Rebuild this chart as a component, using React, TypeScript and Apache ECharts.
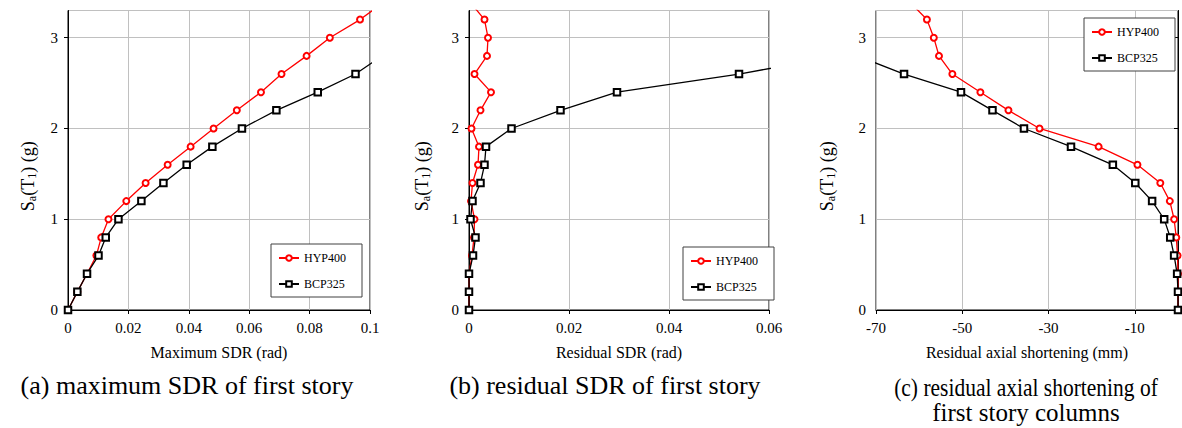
import React, { useEffect, useRef } from "react";
import * as echarts from "echarts";

// Sa(T1) levels (g)
const yLevels = [0, 0.2, 0.4, 0.6, 0.8, 1.0, 1.2, 1.4, 1.6, 1.8, 2.0, 2.2, 2.4, 2.6, 2.8, 3.0, 3.2, 3.4];

// (a) maximum SDR of first story (rad)
const aHYP400 = [0, 0.0031, 0.0063, 0.0094, 0.011, 0.0134, 0.0193, 0.0257, 0.033, 0.0406, 0.0482, 0.0559, 0.0639, 0.0707, 0.079, 0.0867, 0.0967, 0.105];
const aBCP325 = [0, 0.0031, 0.0063, 0.0101, 0.0125, 0.0167, 0.0243, 0.0316, 0.0393, 0.0478, 0.0576, 0.069, 0.0827, 0.0952, 0.104];

// (b) residual SDR of first story (rad)
const bHYP400 = [0, 0, 0, 0.0006, 0.001, 0.0011, 0.0004, 0.0007, 0.0018, 0.002, 0.0005, 0.0023, 0.0044, 0.0011, 0.0036, 0.0038, 0.0031, 0.0001];
const bBCP325 = [0, 0, 0, 0.0008, 0.0013, 0.0003, 0.0007, 0.0023, 0.0031, 0.0034, 0.0085, 0.0183, 0.0296, 0.054, 0.074];

// (c) residual axial shortening of first story columns (mm)
const cHYP400 = [0, 0, 0, -0.1, -0.4, -0.9, -1.9, -4.1, -9.4, -18.4, -32.1, -39.3, -45.8, -52.3, -55.4, -56.6, -58.2, -62.3];
const cBCP325 = [0, 0, -0.2, -0.9, -1.8, -3.2, -6.0, -9.9, -15.1, -24.8, -35.7, -43.0, -50.3, -63.5, -74.3];

const xTitles = ["Maximum SDR (rad)", "Residual SDR (rad)", "Residual axial shortening (mm)"];
const captions = ["(a) maximum SDR of first story", "(b) residual SDR of first story", "(c) residual axial shortening of", "first story columns"];
const seriesNames = ["HYP400", "BCP325"];

const FONT = "Liberation Serif";

function pairs(xs: number[]) {
  return xs.map((x, i) => [x, yLevels[i]]);
}

export default function App() {
  const ref = useRef<HTMLDivElement>(null);
  useEffect(() => {
    document.body.style.margin = "0";
    const chart = echarts.init(ref.current!, null, { renderer: "svg" });

    const grids = [
      { left: 68, right: 812, top: 10.5, bottom: 118 },
      { left: 469, right: 413, top: 10.5, bottom: 118 },
      { left: 876, right: 4, top: 10.5, bottom: 118 },
    ];
    const xRanges = [
      { min: 0, max: 0.1, interval: 0.02 },
      { min: 0, max: 0.06, interval: 0.02 },
      { min: -70, max: 0, interval: 20 },
    ];
    const yNameGaps = [30, 37, 39];

    const axisCommon = {
      axisLine: { show: true, lineStyle: { color: "#000", width: 1 } },
      axisTick: { show: true, inside: false, length: 4, lineStyle: { color: "#000" } },
      splitLine: { show: true, lineStyle: { color: "#c0c0c0", width: 1 } },
    };

    const xAxis = xRanges.map((r, i) => ({
      type: "value",
      gridIndex: i,
      min: r.min,
      max: r.max,
      interval: r.interval,
      name: xTitles[i],
      nameLocation: "middle",
      nameGap: 34,
      nameTextStyle: { fontFamily: FONT, fontSize: 16, color: "#000" },
      axisLabel: {
        fontFamily: FONT,
        fontSize: 15,
        color: "#000",
        margin: 10,
        showMaxLabel: i === 2 ? false : true,
      },
      ...axisCommon,
    }));

    const yAxis = grids.map((_, i) => ({
      type: "value",
      gridIndex: i,
      min: 0,
      max: 3.3,
      interval: 1,
      name: "{n|S}{s|a}{n|(T}{s|1}{n|) (g)}",
      nameLocation: "middle",
      nameGap: yNameGaps[i],
      nameRotate: 90,
      nameTextStyle: {
        fontFamily: FONT,
        fontSize: 18,
        color: "#000",
        padding: [0, 32, 0, 0],
        rich: {
          n: { fontFamily: FONT, fontSize: 18, color: "#000" },
          s: { fontFamily: FONT, fontSize: 12, color: "#000", padding: [9, 0, 0, 0] },
        },
      },
      axisLabel: {
        fontFamily: FONT,
        fontSize: 15,
        color: "#000",
        margin: 10,
        showMaxLabel: false,
      },
      ...axisCommon,
    }));

    const data = [
      [aHYP400, aBCP325],
      [bHYP400, bBCP325],
      [cHYP400, cBCP325],
    ];
    const series: any[] = [];
    data.forEach((pair, i) => {
      pair.forEach((xs, k) => {
        series.push({
          type: "line",
          name: seriesNames[k],
          xAxisIndex: i,
          yAxisIndex: i,
          data: pairs(xs),
          color: k === 0 ? "#ff0000" : "#000000",
          symbol: k === 0 ? "emptyCircle" : "emptyRect",
          symbolSize: k === 0 ? 6 : 6.5,
          showAllSymbol: true,
          clip: true,
          lineStyle: { width: 1.3 },
          itemStyle: { borderWidth: 1 },
          z: 2 + k,
        });
      });
    });

    const legendPos = [
      { left: 271, top: 244 },
      { left: 683, top: 247 },
      { left: 1084, top: 18 },
    ];
    const legend = legendPos.map((p) => ({
      ...p,
      orient: "vertical",
      data: seriesNames,
      selectedMode: false,
      itemWidth: 20,
      itemHeight: 7,
      itemGap: 14,
      padding: [8, 16, 7, 7],
      borderColor: "#404040",
      borderWidth: 1,
      backgroundColor: "#ffffff",
      textStyle: { fontFamily: FONT, fontSize: 12, color: "#000" },
    }));

    const capStyle = (size: number) => ({
      fontFamily: FONT,
      fontSize: size,
      fill: "#000",
      align: "center",
      verticalAlign: "bottom",
    });

    const graphic = [
      { type: "text", x: 187, y: 398, style: { text: captions[0], ...capStyle(26) } },
      { type: "text", x: 605, y: 398, style: { text: captions[1], ...capStyle(26) } },
      { type: "text", x: 1026, y: 400, scaleX: 0.86, style: { text: captions[2], ...capStyle(25) } },
      { type: "text", x: 1026, y: 425, style: { text: captions[3], ...capStyle(25) } },
    ];

    chart.setOption({
      animation: false,
      backgroundColor: "#ffffff",
      grid: grids.map((g) => ({ ...g, show: true, borderColor: "#000", borderWidth: 1, backgroundColor: "transparent" })),
      xAxis,
      yAxis,
      legend,
      series,
      graphic,
    } as any);

    return () => chart.dispose();
  }, []);

  return <div ref={ref} style={{ width: 1182, height: 428 }} />;
}
